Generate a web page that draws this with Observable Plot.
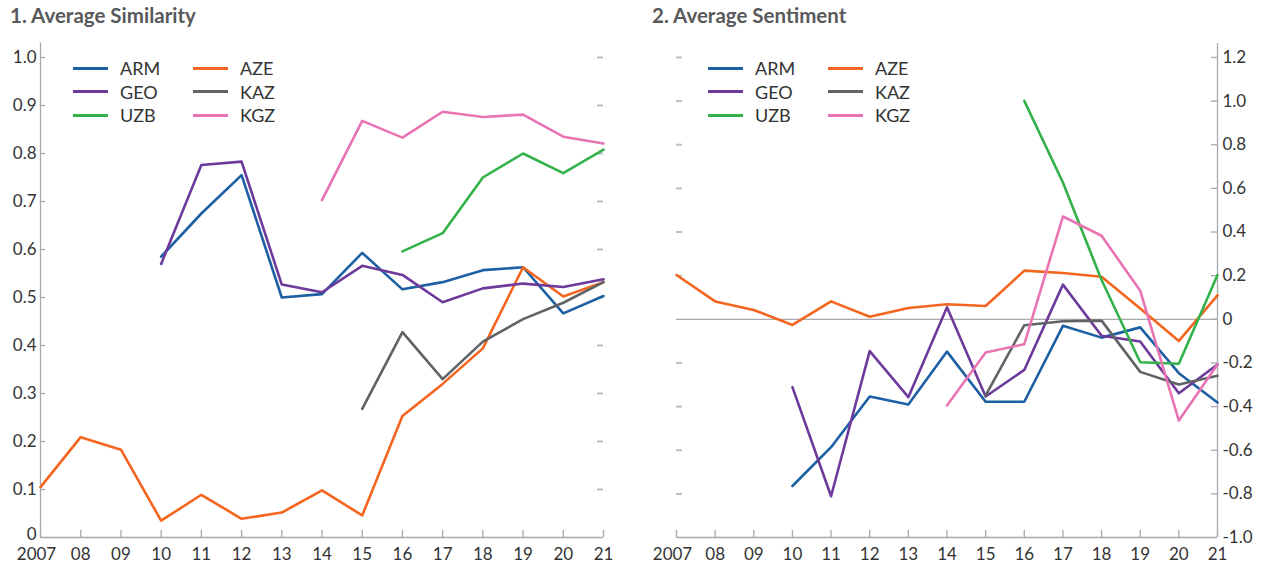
<!DOCTYPE html>
<html>
<head>
<meta charset="utf-8">
<script src="https://cdn.jsdelivr.net/npm/d3@7"></script>
<script src="https://cdn.jsdelivr.net/npm/@observablehq/plot@0.6"></script>
<style>
  body { margin: 0; background: #fff; font-family: Lato, "Open Sans", sans-serif; }
  #wrap { position: relative; width: 1270px; height: 571px; overflow: hidden; }
  .panel { position: absolute; top: 0; }
  .title { position: absolute; top: 3px; font-weight: 700; font-size: 20.5px; color: #58595b; z-index: 2; white-space: nowrap; }
  .lg { position: absolute; z-index: 2; height: 0; }
  .sw { position: absolute; width: 35px; height: 3px; top: -1.5px; left: 0; }
  .lb { position: absolute; left: 47px; top: -11px; font-size: 18px; line-height: 22px; color: #333; white-space: nowrap; }
</style>
</head>
<body>
<div id="wrap">
  <div class="title" style="left:10px">1. Average Similarity</div>
  <div class="title" style="left:652px">2. Average Sentiment</div>
  <div id="left" class="panel" style="left:0"></div>
  <div id="right" class="panel" style="left:640px"></div>
</div>
<script>
// ---------- data ----------
const years = [2007, 2008, 2009, 2010, 2011, 2012, 2013, 2014, 2015, 2016, 2017, 2018, 2019, 2020, 2021];
const yearLabels = ["2007", "08", "09", "10", "11", "12", "13", "14", "15", "16", "17", "18", "19", "20", "21"];
const countries = ["ARM", "AZE", "GEO", "KAZ", "UZB", "KGZ"];
const colors = ["#1d5fa3", "#f4651f", "#6d3a9c", "#606366", "#33b24a", "#e874b4"];

// 1. Average Similarity
const simARM = [null, null, null, 0.585, 0.675, 0.755, 0.500, 0.507, 0.593, 0.517, 0.532, 0.557, 0.563, 0.467, 0.503];
const simAZE = [0.105, 0.209, 0.183, 0.035, 0.089, 0.039, 0.052, 0.098, 0.046, 0.253, 0.320, 0.394, 0.563, 0.502, 0.532];
const simGEO = [null, null, null, 0.570, 0.776, 0.783, 0.527, 0.511, 0.566, 0.547, 0.490, 0.519, 0.529, 0.522, 0.538];
const simKAZ = [null, null, null, null, null, null, null, null, 0.268, 0.428, 0.330, 0.408, 0.455, 0.489, 0.532];
const simUZB = [null, null, null, null, null, null, null, null, null, 0.596, 0.634, 0.750, 0.800, 0.759, 0.808];
const simKGZ = [null, null, null, null, null, null, null, 0.703, 0.868, 0.833, 0.887, 0.876, 0.881, 0.835, 0.821];

// 2. Average Sentiment
const senARM = [null, null, null, -0.764, -0.586, -0.354, -0.390, -0.148, -0.378, -0.378, -0.030, -0.084, -0.037, -0.247, -0.381];
const senAZE = [0.203, 0.082, 0.043, -0.026, 0.082, 0.012, 0.052, 0.069, 0.061, 0.223, 0.212, 0.195, 0.050, -0.099, 0.110];
const senGEO = [null, null, null, -0.311, -0.811, -0.146, -0.357, 0.055, -0.354, -0.232, 0.159, -0.075, -0.102, -0.339, -0.207];
const senKAZ = [null, null, null, null, null, null, null, null, -0.349, -0.027, -0.009, -0.006, -0.241, -0.299, -0.259];
const senUZB = [null, null, null, null, null, null, null, null, null, 1.001, 0.627, 0.180, -0.197, -0.204, 0.203];
const senKGZ = [null, null, null, null, null, null, null, -0.395, -0.152, -0.114, 0.471, 0.383, 0.131, -0.464, -0.207];

const simTicks = [0, 0.1, 0.2, 0.3, 0.4, 0.5, 0.6, 0.7, 0.8, 0.9, 1.0];
const simTickLabels = ["0", "0.1", "0.2", "0.3", "0.4", "0.5", "0.6", "0.7", "0.8", "0.9", "1.0"];
const senTicks = [-1.0, -0.8, -0.6, -0.4, -0.2, 0, 0.2, 0.4, 0.6, 0.8, 1.0, 1.2];
const senTickLabels = ["-1.0", "-0.8", "-0.6", "-0.4", "-0.2", "0", "0.2", "0.4", "0.6", "0.8", "1.0", "1.2"];

// ---------- helpers ----------
const axisColor = "#a7a9ac";
const dashColor = "#bcbec0";
function longTable(seriesList) {
  const rows = [];
  seriesList.forEach((vals, k) => {
    vals.forEach((v, i) => { if (v != null) rows.push({country: countries[k], year: years[i], value: v}); });
  });
  return rows;
}
const labelOf = (ticks, labels) => (d) => labels[ticks.findIndex(t => Math.abs(t - d) < 1e-9)];
const xFmt = labelOf(years, yearLabels);
const baseStyle = {fontFamily: "Lato, 'Open Sans', sans-serif", fontSize: "17px", color: "#333", background: "transparent", overflow: "visible"};

// ---------- left panel ----------
const simData = longTable([simARM, simAZE, simGEO, simKAZ, simUZB, simKGZ]);
const simInner = simTicks.filter(t => t !== 0);
const simFmt = labelOf(simTicks, simTickLabels);
const left = Plot.plot({
  width: 640, height: 571,
  marginLeft: 40, marginRight: 37, marginTop: 42.6, marginBottom: 34,
  style: baseStyle,
  x: {domain: [2007, 2021], axis: null},
  y: {domain: [0, 1.03], axis: null},
  color: {domain: countries, range: colors},
  marks: [
    Plot.ruleX([2007], {stroke: axisColor, strokeWidth: 1.3}),
    Plot.ruleY([0], {stroke: axisColor, strokeWidth: 1.3}),
    Plot.ruleY(simInner, {y: d => d, x1: 2007, x2: 2007, insetRight: -5, stroke: axisColor, strokeWidth: 1.3}),
    Plot.ruleY(simInner, {y: d => d, x1: 2021, x2: 2021, insetLeft: -6, stroke: dashColor, strokeWidth: 2}),
    Plot.ruleX(years, {x: d => d, y1: 0, y2: 0, insetTop: -7, stroke: axisColor, strokeWidth: 1.3}),
    Plot.axisY({ticks: simInner, tickSize: 0, tickPadding: 4, label: null, tickFormat: simFmt}),
    Plot.axisY({ticks: [0], tickSize: 0, tickPadding: 4, dy: -3, label: null, tickFormat: simFmt}),
    Plot.axisX({ticks: years.slice(1), tickSize: 0, tickPadding: 10, label: null, tickFormat: xFmt}),
    Plot.axisX({ticks: [2007], tickSize: 0, tickPadding: 10, dx: -4, label: null, tickFormat: xFmt}),
    Plot.line(simData, {x: "year", y: "value", z: "country", stroke: "country", strokeWidth: 2.6, curve: "linear"})
  ]
});
document.getElementById("left").appendChild(left);

// ---------- right panel ----------
const senData = longTable([senARM, senAZE, senGEO, senKAZ, senUZB, senKGZ]);
const senInner = senTicks.filter(t => t !== -1.0);
const right = Plot.plot({
  width: 630, height: 571,
  marginLeft: 36, marginRight: 53, marginTop: 43, marginBottom: 34,
  style: baseStyle,
  x: {domain: [2007, 2021], axis: null},
  y: {domain: [-1.0, 1.264], axis: null},
  color: {domain: countries, range: colors},
  marks: [
    Plot.ruleX([2021], {stroke: axisColor, strokeWidth: 1.3}),
    Plot.ruleY([-1.0], {stroke: axisColor, strokeWidth: 1.3}),
    Plot.ruleY([0], {stroke: axisColor, strokeWidth: 1.3}),
    Plot.ruleY(senInner, {y: d => d, x1: 2021, x2: 2021, insetLeft: -6, stroke: axisColor, strokeWidth: 1.3}),
    Plot.ruleY(senInner.filter(t => t !== 0), {y: d => d, x1: 2007, x2: 2007, insetRight: -6, stroke: dashColor, strokeWidth: 2}),
    Plot.ruleX(years, {x: d => d, y1: -1.0, y2: -1.0, insetTop: -7, stroke: axisColor, strokeWidth: 1.3}),
    Plot.axisY({anchor: "right", ticks: senTicks, tickSize: 0, tickPadding: 5, label: null, tickFormat: labelOf(senTicks, senTickLabels)}),
    Plot.axisX({ticks: years.slice(1), tickSize: 0, tickPadding: 10, label: null, tickFormat: xFmt}),
    Plot.axisX({ticks: [2007], tickSize: 0, tickPadding: 10, dx: -4, label: null, tickFormat: xFmt}),
    Plot.line(senData, {x: "year", y: "value", z: "country", stroke: "country", strokeWidth: 2.6, curve: "linear"})
  ]
});
document.getElementById("right").appendChild(right);

// ---------- legends (inside each panel) ----------
function legend(x0, y0) {
  const wrap = document.getElementById("wrap");
  const colX = [0, 120], rowY = [0, 23.5, 47];
  const order = ["ARM", "AZE", "GEO", "KAZ", "UZB", "KGZ"];
  order.forEach((c, i) => {
    const el = document.createElement("div");
    el.className = "lg";
    el.style.left = (x0 + colX[i % 2]) + "px";
    el.style.top = (y0 + rowY[Math.floor(i / 2)]) + "px";
    el.innerHTML = `<div class="sw" style="background:${colors[countries.indexOf(c)]}"></div><div class="lb">${c}</div>`;
    wrap.appendChild(el);
  });
}
legend(73, 68);
legend(708, 68);
</script>
</body>
</html>
